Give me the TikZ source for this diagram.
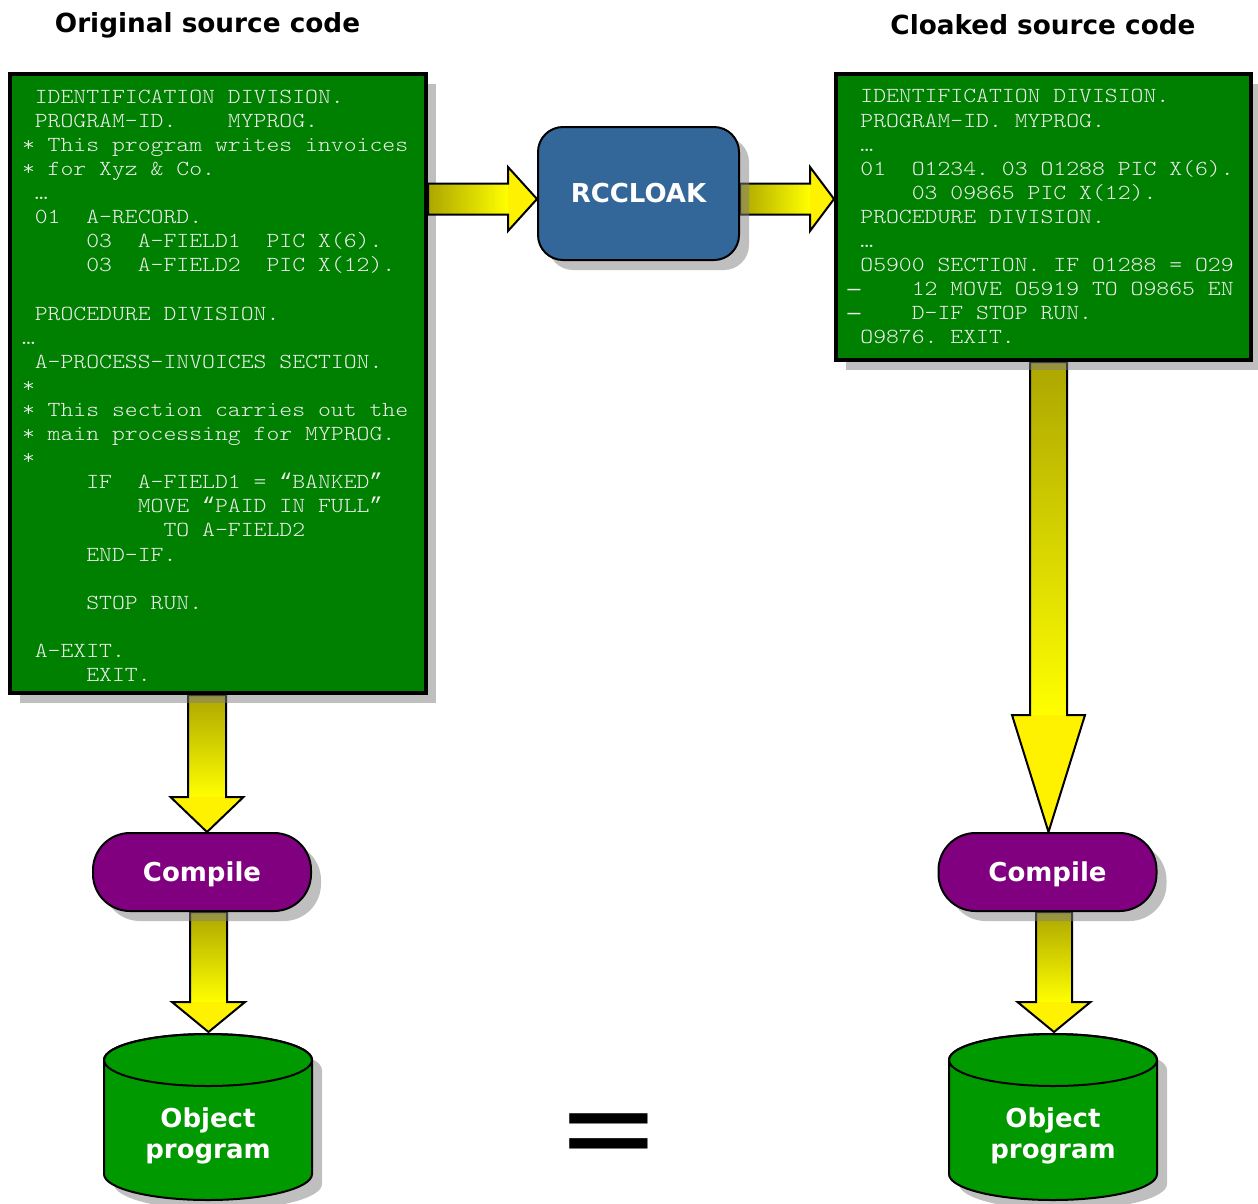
\documentclass[tikz,border=0pt]{standalone}
\usepackage{fontspec}
\setmainfont{DejaVu Sans}
\newfontfamily\codefont{lmmonolt10-regular.otf}[FakeStretch=1.143]
\newfontfamily\libmono{Liberation Mono}
\usetikzlibrary{shadows,calc}
\pgfdeclarelayer{background}
\pgfsetlayers{background,main}
\definecolor{codegreen}{RGB}{0,128,0}
\definecolor{codetext}{RGB}{238,238,238}
\definecolor{rcblue}{RGB}{51,102,153}
\definecolor{cmppurple}{RGB}{128,0,128}
\definecolor{cylgreen}{RGB}{0,153,0}
\definecolor{olv}{RGB}{172,166,0}
\definecolor{shadowgray}{RGB}{128,128,128}
\newcommand\cl[1]{\strut#1\\}
\newcommand\codespaces{\def~{\hphantom{M}}}
\newcommand\oq{{\libmono“}}
\newcommand\cq{{\libmono”}}
\newcommand\md{{\libmono—}}
\tikzset{
  shadowed/.style={drop shadow={shadow xshift=10pt, shadow yshift=-10pt, fill=shadowgray, opacity=0.5}},
  codebox/.style={draw=black, line width=4pt, fill=codegreen, text=codetext, align=left,
     inner ysep=0pt, font=\codefont\fontsize{21.45}{24.1}\selectfont\codespaces, shadowed},
  titletext/.style={font=\bfseries\fontsize{26.3}{31}\selectfont},
  whitetext/.style={text=white, font=\bfseries\fontsize{26}{31}\selectfont},
  procbox/.style={draw=black, line width=2pt, fill=rcblue, rounded corners=25pt,
     minimum width=201pt, minimum height=133pt, whitetext, shadowed},
  compbox/.style={draw=black, line width=2pt, fill=cmppurple, rounded corners=37pt,
     minimum width=218pt, minimum height=78pt, whitetext, text depth=0pt, shadowed},
  objtext/.style={whitetext, align=center},
  arrowline/.style={draw=black, line width=2pt, line join=miter},
  cylstyle/.style={draw=black, line width=2pt, fill=cylgreen},
  eqsign/.style={font=\fontsize{125}{125}\selectfont, inner sep=0pt}
}
% vertical arrow: from, to, x, shaft half width, head half width, head length
\newcommand\varrow[6]{%
  \shade[top color=olv, bottom color=yellow] let \p1=(#1), \p2=(#2) in
    (#3pt-#4pt,\y1) rectangle (#3pt+#4pt,\y2+#6pt);
  \fill[yellow] let \p1=(#1), \p2=(#2) in
    (#3pt-#5pt,\y2+#6pt) -- (#3pt,\y2) -- (#3pt+#5pt,\y2+#6pt) -- cycle;
  \draw[arrowline] let \p1=(#1), \p2=(#2) in
    (#3pt-#4pt,\y1) -- (#3pt-#4pt,\y2+#6pt) -- (#3pt-#5pt,\y2+#6pt) -- (#3pt,\y2)
    -- (#3pt+#5pt,\y2+#6pt) -- (#3pt+#4pt,\y2+#6pt) -- (#3pt+#4pt,\y1) -- cycle;
}
% horizontal arrow: from, to, y(px), shaft half width, head half width, head length
\newcommand\harrow[6]{%
  \shade[left color=olv, right color=yellow] let \p1=(#1), \p2=(#2) in
    (\x1,-#3pt-#4pt) rectangle (\x2-#6pt,-#3pt+#4pt);
  \fill[yellow] let \p1=(#1), \p2=(#2) in
    (\x2-#6pt,-#3pt-#5pt) -- (\x2,-#3pt) -- (\x2-#6pt,-#3pt+#5pt) -- cycle;
  \draw[arrowline] let \p1=(#1), \p2=(#2) in
    (\x1,-#3pt-#4pt) -- (\x2-#6pt,-#3pt-#4pt) -- (\x2-#6pt,-#3pt-#5pt) -- (\x2,-#3pt)
    -- (\x2-#6pt,-#3pt+#5pt) -- (\x2-#6pt,-#3pt+#4pt) -- (\x1,-#3pt+#4pt) -- cycle;
}
% cylinder centred at x = #1
\newcommand\cylat[1]{%
  \begin{scope}[shift={(#1,0)}]
    \fill[shadowgray, opacity=0.5, shift={(10,-10)}] (-104,-1060) -- (-104,-1174)
      arc[start angle=180, end angle=360, x radius=104, y radius=26] -- (104,-1060)
      arc[start angle=0, end angle=180, x radius=104, y radius=26] -- cycle;
    \draw[cylstyle] (-104,-1060) -- (-104,-1174)
      arc[start angle=180, end angle=360, x radius=104, y radius=26] -- (104,-1060)
      arc[start angle=0, end angle=180, x radius=104, y radius=26] -- cycle;
    \draw[line width=2pt] (0,-1060) ellipse[x radius=104, y radius=26];
  \end{scope}}
\begin{document}
\begin{tikzpicture}[x=1pt, y=1pt]
\useasboundingbox (0,0) rectangle (1258,-1203);

\node[titletext] (t1) at (207.5,-25) {Original source code};
\node[titletext] (t2) at (1043,-25) {Cloaked source code};

\node[codebox, minimum width=416pt, minimum height=619pt, text width=392pt, inner xsep=12pt]
  (code1) at (218,-383.5) {%
\rule{0pt}{24.9pt}~IDENTIFICATION~DIVISION.\\
\cl{~PROGRAM-ID.~~~~MYPROG.}
\cl{*~This~program~writes~invoices}
\cl{*~for~Xyz~\&~Co.}
\cl{~…}
\cl{~01~~A-RECORD.}
\cl{~~~~~03~~A-FIELD1~~PIC~X(6).}
\cl{~~~~~03~~A-FIELD2~~PIC~X(12).}
\cl{}
\cl{~PROCEDURE~DIVISION.}
\cl{…}
\cl{~A-PROCESS-INVOICES~SECTION.}
\cl{*}
\cl{*~This~section~carries~out~the}
\cl{*~main~processing~for~MYPROG.}
\cl{*}
\cl{~~~~~IF~~A-FIELD1~=~\oq BANKED\cq}
\cl{~~~~~~~~~MOVE~\oq PAID~IN~FULL\cq}
\cl{~~~~~~~~~~~TO~A-FIELD2}
\cl{~~~~~END-IF.}
\cl{}
\cl{~~~~~STOP~RUN.}
\cl{}
\cl{~A-EXIT.}
\strut~~~~~EXIT.};

\node[codebox, minimum width=415pt, minimum height=286pt, text width=392pt, inner xsep=11.5pt]
  (code2) at (1043.5,-217) {%
\rule{0pt}{20.2pt}~IDENTIFICATION~DIVISION.\\
\cl{~PROGRAM-ID.~MYPROG.}
\cl{~…}
\cl{~01~~O1234.~03~O1288~PIC~X(6).}
\cl{~~~~~03~09865~PIC~X(12).}
\cl{~PROCEDURE~DIVISION.}
\cl{~…}
\cl{~O5900~SECTION.~IF~O1288~=~O29}
\cl{\md~~~~12~MOVE~O5919~TO~O9865~EN}
\cl{\md~~~~D-IF~STOP~RUN.}
\strut~O9876.~EXIT.};

\node[procbox] (rc) at (638.5,-193.5) {RCCLOAK};

\node[compbox] (cmp1) at (202,-872) {Compile};
\node[compbox] (cmp2) at (1047.5,-872) {Compile};

\cylat{208}
\cylat{1053}
\node[objtext] (obj1) at (208,-1135.6) {Object\\program};
\node[objtext] (obj2) at (1053,-1135.6) {Object\\program};
\coordinate (cyl1) at (208.5,-1032);
\coordinate (cyl2) at (1054,-1032);

\node[eqsign] (eq) at (608.5,-1142) {=};

\begin{pgfonlayer}{background}
  \harrow{rc.east}{code2.west}{199}{15.5}{32}{24}
  \varrow{code1.south}{cmp1.north}{207}{19}{36.5}{35}
  \varrow{cmp1.south}{cyl1}{208.5}{18.5}{36.5}{30}
  \varrow{code2.south}{cmp2.north}{1048.5}{18.5}{36.5}{117}
  \varrow{cmp2.south}{cyl2}{1054}{18}{36.5}{30}
\end{pgfonlayer}
\harrow{code1.east}{rc.west}{199}{15.5}{32}{29}
\end{tikzpicture}
\end{document}
